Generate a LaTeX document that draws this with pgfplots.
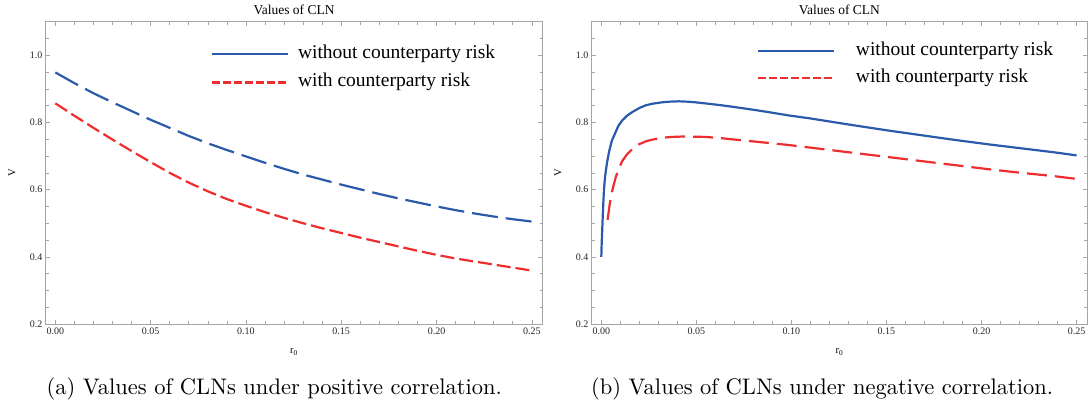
\documentclass[border=0pt]{standalone}
\usepackage{fontspec}
\usepackage{pgfplots}
\pgfplotsset{compat=1.18}
\newfontfamily\tms{Liberation Serif}
\newfontfamily\capfont{lmroman10-regular.otf}

\definecolor{lineblue}{RGB}{44,90,170}
\definecolor{linered}{RGB}{238,46,46}
\definecolor{framegray}{RGB}{165,165,165}

\pgfplotsset{
  clnaxis/.style={
    scale only axis, width=496.5pt, height=302.3pt,
    xmin=-0.005, xmax=0.2555, ymin=0.2, ymax=1.1,
    xtick={0,0.05,0.1,0.15,0.2,0.25},
    minor xtick={0.01,0.02,0.03,0.04,0.06,0.07,0.08,0.09,0.11,0.12,0.13,0.14,0.16,0.17,0.18,0.19,0.21,0.22,0.23,0.24},
    ytick={0.2,0.4,0.6,0.8,1.0},
    minor ytick={0.25,0.3,0.35,0.45,0.5,0.55,0.65,0.7,0.75,0.85,0.9,0.95,1.05},
    xticklabel style={/pgf/number format/.cd, fixed, fixed zerofill, precision=2},
    yticklabel style={/pgf/number format/.cd, fixed, fixed zerofill, precision=1},
    /pgf/number format/assume math mode=true,
    ticklabel style={font=\tms\fontsize{10}{12}\selectfont, text=black!85},
    tick align=inside,
    major tick length=4.5pt, minor tick length=2.8pt,
    every tick/.style={framegray, line width=0.6pt},
    axis line style={framegray, line width=0.7pt},
    title={Values of CLN},
    title style={font=\tms\fontsize{13.5}{15}\selectfont, at={(0.5,1)}, anchor=south, inner sep=1pt},
    xlabel={r\textsubscript{0}},
    ylabel={V},
    label style={font=\tms\fontsize{10.5}{12}\selectfont},
    xlabel style={at={(axis description cs:0.5,-0.093)}, anchor=center},
    ylabel style={at={(axis description cs:-0.068,0.5)}, anchor=center},
    legend image code/.code={\draw[##1] (0pt,0pt) -- (75.6pt,0pt);},
    legend cell align=left,
  },
}

\pgfplotstableread{
r V
0.000 0.949
0.010 0.917
0.020 0.887
0.030 0.860
0.040 0.834
0.050 0.808
0.060 0.784
0.070 0.760
0.080 0.738
0.090 0.718
0.100 0.699
0.110 0.680
0.120 0.662
0.130 0.645
0.140 0.630
0.150 0.615
0.160 0.601
0.170 0.587
0.180 0.574
0.190 0.562
0.200 0.550
0.210 0.539
0.220 0.529
0.230 0.520
0.240 0.512
0.250 0.505
}\posnocp

\pgfplotstableread{
r V
0.000 0.857
0.010 0.820
0.020 0.784
0.030 0.749
0.040 0.715
0.050 0.682
0.060 0.650
0.070 0.621
0.080 0.595
0.090 0.572
0.100 0.552
0.110 0.533
0.120 0.516
0.130 0.500
0.140 0.485
0.150 0.471
0.160 0.457
0.170 0.444
0.180 0.431
0.190 0.418
0.200 0.406
0.210 0.395
0.220 0.386
0.230 0.377
0.240 0.368
0.250 0.359
}\poscp

\pgfplotstableread{
r V
0.0000 0.400
0.0002 0.440
0.0005 0.483
0.0009 0.542
0.0014 0.600
0.0020 0.640
0.0030 0.680
0.0040 0.711
0.0055 0.745
0.0075 0.771
0.0090 0.790
0.0110 0.806
0.0135 0.820
0.0163 0.831
0.0200 0.843
0.0233 0.851
0.0270 0.856
0.0320 0.860
0.0360 0.862
0.0408 0.863
0.0450 0.862
0.0495 0.860
0.0560 0.856
0.0635 0.851
0.0700 0.846
0.0810 0.837
0.0900 0.829
0.0985 0.821
0.1100 0.812
0.1200 0.803
0.1335 0.791
0.1510 0.776
0.1685 0.762
0.1860 0.748
0.2035 0.735
0.2210 0.723
0.2385 0.711
0.2500 0.702
}\negnocp

\pgfplotstableread{
r V
0.0033 0.510
0.0045 0.560
0.0060 0.603
0.0075 0.635
0.0090 0.660
0.0110 0.685
0.0135 0.705
0.0165 0.722
0.0198 0.735
0.0240 0.745
0.0285 0.751
0.0330 0.755
0.0373 0.757
0.0420 0.758
0.0460 0.758
0.0548 0.757
0.0635 0.753
0.0720 0.748
0.0810 0.743
0.0985 0.733
0.1160 0.721
0.1335 0.709
0.1510 0.697
0.1685 0.685
0.1860 0.673
0.2035 0.661
0.2210 0.650
0.2385 0.640
0.2500 0.632
}\negcp

\begin{document}
\begin{tikzpicture}
\path[use as bounding box] (0pt,0pt) rectangle (1089pt,-409pt);

% (a) positive correlation
\begin{axis}[clnaxis, at={(45.8pt,-324pt)}, anchor=south west,
  legend style={draw=none, fill=none, at={(axis description cs:0.3267,0.9295)}, anchor=north west,
    font=\tms\fontsize{19.5}{21}\selectfont, row sep=11pt,
    nodes={inner sep=0pt, text height=13pt, text depth=4.5pt},
    /tikz/every odd column/.append style={column sep=9pt}}]
  \addplot[lineblue, line width=2.2pt, dash pattern=on 26pt off 8pt, forget plot] table[x=r,y=V] {\posnocp};
  \addplot[linered, line width=2.2pt, dash pattern=on 14pt off 5pt, forget plot] table[x=r,y=V] {\poscp};
  \addlegendimage{lineblue, line width=2.2pt}
  \addlegendentry{without counterparty risk}
  \addlegendimage{linered, line width=2.2pt, dash pattern=on 7.5pt off 3.5pt}
  \addlegendentry{with counterparty risk}
\end{axis}

% (b) negative correlation
\begin{axis}[clnaxis, at={(591.8pt,-324pt)}, anchor=south west, width=495.2pt,
  legend style={draw=none, fill=none, at={(axis description cs:0.3275,0.9395)}, anchor=north west,
    font=\tms\fontsize{19.5}{21}\selectfont, row sep=9.5pt,
    nodes={inner sep=0pt, text height=13pt, text depth=4.5pt},
    /tikz/every odd column/.append style={column sep=21pt}}]
  \addplot[lineblue, line width=2.2pt, forget plot] table[x=r,y=V] {\negnocp};
  \addplot[linered, line width=2.2pt, dash pattern=on 20pt off 8pt, forget plot] table[x=r,y=V] {\negcp};
  \addlegendimage{lineblue, line width=2.2pt}
  \addlegendentry{without counterparty risk}
  \addlegendimage{linered, line width=2.2pt, dash pattern=on 7.5pt off 3.5pt}
  \addlegendentry{with counterparty risk}
\end{axis}

\node[anchor=base west, font=\capfont\fontsize{22.5}{27}\selectfont, inner sep=0pt] at (46.5pt,-394pt) {(a)\ Values of CLNs under positive correlation.};
\node[anchor=base west, font=\capfont\fontsize{22.5}{27}\selectfont, inner sep=0pt] at (591pt,-394pt) {(b)\ Values of CLNs under negative correlation.};
\end{tikzpicture}
\end{document}
